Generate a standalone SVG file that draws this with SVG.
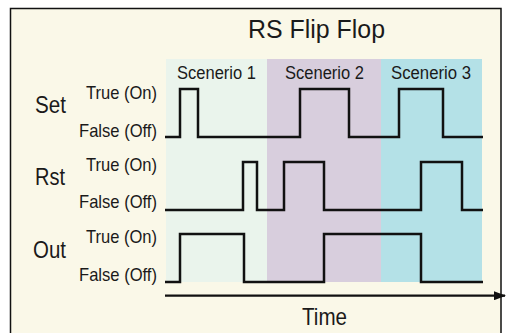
<svg xmlns="http://www.w3.org/2000/svg" width="506" height="333" viewBox="0 0 506 333">
<style>
text{font-family:"Liberation Sans",Arial,sans-serif;fill:#1a1a1a}
.lbl{font-size:19px;text-anchor:end}
.sig{font-size:24px;text-anchor:end}
.scn{font-size:18px}
.wave{fill:none;stroke:#111;stroke-width:2.5;stroke-linejoin:miter}
</style>
<defs>
<marker id="arr" viewBox="0 0 12 9" refX="11" refY="4.5" markerWidth="12" markerHeight="9" markerUnits="userSpaceOnUse" orient="auto">
<path d="M0,0 L12,4.5 L0,9 Z" fill="#111"/>
</marker>
</defs>
<rect x="0" y="0" width="506" height="333" fill="#ffffff"/>
<rect x="10.5" y="8.5" width="490.5" height="340" fill="#faf8e8" stroke="#111" stroke-width="1.5"/>
<g id="scenarios">
<rect x="166" y="59" width="101" height="223" fill="#eaf4ec"/>
<rect x="267" y="59" width="114" height="223" fill="#d8cedd"/>
<rect x="381" y="59" width="101" height="223" fill="#b4e1e7"/>
<text class="scn" x="177" y="79" textLength="79" lengthAdjust="spacingAndGlyphs">Scenerio 1</text>
<text class="scn" x="285" y="79" textLength="79" lengthAdjust="spacingAndGlyphs">Scenerio 2</text>
<text class="scn" x="391" y="79" textLength="80" lengthAdjust="spacingAndGlyphs">Scenerio 3</text>
</g>
<text id="title" x="248" y="38" font-size="25" textLength="137" lengthAdjust="spacingAndGlyphs">RS Flip Flop</text>
<g id="set">
<text class="sig" x="66" y="113" textLength="31" lengthAdjust="spacingAndGlyphs">Set</text>
<text class="lbl" x="157" y="99" textLength="71" lengthAdjust="spacingAndGlyphs">True (On)</text>
<text class="lbl" x="157" y="137" textLength="78" lengthAdjust="spacingAndGlyphs">False (Off)</text>
</g>
<g id="rst">
<text class="sig" x="65" y="185" textLength="30" lengthAdjust="spacingAndGlyphs">Rst</text>
<text class="lbl" x="157" y="171" textLength="71" lengthAdjust="spacingAndGlyphs">True (On)</text>
<text class="lbl" x="157" y="208" textLength="78" lengthAdjust="spacingAndGlyphs">False (Off)</text>
</g>
<g id="out">
<text class="sig" x="66" y="258" textLength="33" lengthAdjust="spacingAndGlyphs">Out</text>
<text class="lbl" x="157" y="243" textLength="71" lengthAdjust="spacingAndGlyphs">True (On)</text>
<text class="lbl" x="157" y="281" textLength="78" lengthAdjust="spacingAndGlyphs">False (Off)</text>
</g>
<g id="connectors">
<path class="wave" d="M165,137 H180 V89 H198 V137 H300 V89 H349 V137 H399 V89 H443 V137 H483"/>
<path class="wave" d="M165,210 H243 V162 H257 V210 H284 V162 H324 V210 H421 V162 H462 V210 H483"/>
<path class="wave" d="M165,282 H180 V234 H244 V282 H324 V234 H421 V282 H483"/>
<line x1="165" y1="295.7" x2="505" y2="295.7" stroke="#111" stroke-width="2.2" marker-end="url(#arr)"/>
</g>
<text id="time" x="302" y="325" font-size="24" textLength="45" lengthAdjust="spacingAndGlyphs">Time</text>
</svg>
